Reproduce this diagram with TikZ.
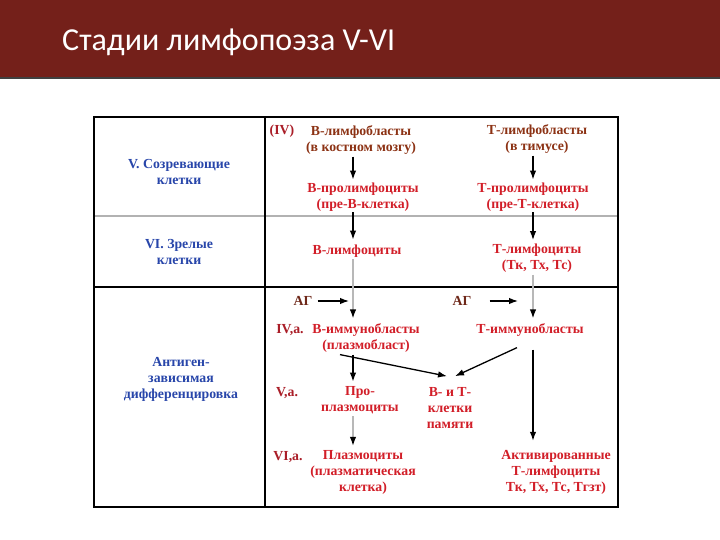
\documentclass[tikz,border=0pt]{standalone}
\usepackage{fontspec}
\setmainfont{Liberation Serif}
\newfontfamily\titlefont{Carlito}
\usetikzlibrary{arrows.meta,calc}
\definecolor{barred}{RGB}{116,32,26}
\definecolor{txtred}{RGB}{210,30,40}
\definecolor{txtbrown}{RGB}{140,50,20}
\definecolor{txtdark}{RGB}{170,30,40}
\definecolor{txtblue}{RGB}{40,70,170}
\definecolor{agcol}{RGB}{110,40,25}
\tikzset{
  lbl/.style={align=center,inner sep=1pt,font=\bfseries\fontsize{13.8}{16}\selectfont},
  red/.style={lbl,text=txtred},
  brown/.style={lbl,text=txtbrown},
  stage/.style={lbl,text=txtdark},
  blue/.style={lbl,text=txtblue},
  ag/.style={lbl,text=agcol},
  arr/.style={line width=1.3pt,-{Latex[length=9pt,width=6.5pt]}},
  garr/.style={line width=1.3pt,draw=black!28,-{Latex[length=9pt,width=6.5pt,color=black]}},
  grid/.style={line width=1.5pt,draw=black},
}
\begin{document}
\begin{tikzpicture}[x=1pt,y=-1pt]
\useasboundingbox (0,0) rectangle (720,540);
\fill[white] (0,0) rectangle (720,540);
% title bar
\fill[barred] (0,0) rectangle (720,77.5);
\draw[black!75,line width=1.2pt] (0,78) -- (720,78);
\node[anchor=west,text=white,inner sep=0,font=\titlefont\fontsize{32}{35}\selectfont] (title) at (62,42) {Стадии лимфопоэза V-VI};
% table
\draw[black!30,line width=1.6pt] (94,216) -- (618,216);
\draw[grid] (94,117) rectangle (618,507);
\draw[grid] (94,287) -- (618,287);
\draw[grid] (265,117) -- (265,507);
% left labels
\node[blue] (L1) at (179,171.5) {V. Созревающие\\клетки};
\node[blue] (L2) at (179,251.5) {VI. Зрелые\\клетки};
\node[blue] (L3) at (181,379) {Антиген-\\зависимая\\дифференцировка};
% content
\coordinate (xB) at (353,0);
\coordinate (xT) at (533,0);
\node[stage] (nIV) at (282,131) {(IV)};
\node[brown] (Blb) at (361,140) {В-лимфобласты\\(в костном мозгу)};
\node[brown] (Tlb) at (537,139) {Т-лимфобласты\\(в тимусе)};
\node[red] (Bpl) at (363,197) {В-пролимфоциты\\(пре-В-клетка)};
\node[red] (Tpl) at (533,197) {Т-пролимфоциты\\(пре-Т-клетка)};
\node[red] (Bl) at (357,251) {В-лимфоциты};
\node[red] (Tl) at (537,258.5) {Т-лимфоциты\\(Тк, Тх, Тс)};
\node[ag] (AG1) at (303,301) {АГ};
\node[ag] (AG2) at (462,301) {АГ};
\coordinate (ag1end) at (349,301);
\coordinate (ag2end) at (518,301);
\node[stage] (IVa) at (290,330) {IV,а.};
\node[red] (Bim) at (366,338) {В-иммунобласты\\(плазмобласт)};
\node[red] (Tim) at (530,330) {Т-иммунобласты};
\node[stage] (Va) at (287,393) {V,а.};
\node[red] (Ppl) at (360,400.5) {Про-\\плазмоциты};
\node[red] (Mem) at (450,408) {В- и Т-\\клетки\\памяти};
\node[stage] (VIa) at (288,457) {VI,а.};
\node[red] (Pl) at (363,472) {Плазмоциты\\(плазматическая\\клетка)};
\node[red] (ATl) at (556,472) {Активированные\\Т-лимфоциты\\Тк, Тх, Тс, Тгзт)};
% arrows
\draw[arr] ($(Blb.south -| xB)+(0,1)$) -- ($(Bpl.north -| xB)+(0,-2)$);
\draw[arr] ($(Tlb.south -| xT)+(0,1)$) -- ($(Tpl.north -| xT)+(0,-2)$);
\draw[arr] ($(Bpl.south -| xB)+(0,0)$) -- ($(Bl.north -| xB)+(0,-4)$);
\draw[arr] ($(Tpl.south -| xT)+(0,0)$) -- ($(Tl.north -| xT)+(0,-3)$);
\draw[garr] ($(Bl.south -| xB)+(0,1)$) -- ($(Bim.north -| xB)+(0,-4)$);
\draw[garr] ($(Tl.south -| xT)+(0,1)$) -- ($(Tim.north -| xT)+(0,-4)$);
\draw[arr] ($(AG1.east)+(4,0)$) -- (ag1end);
\draw[arr] ($(AG2.east)+(17,0)$) -- (ag2end);
\draw[arr] ($(Bim.south -| xB)+(0,1)$) -- ($(Ppl.north -| xB)+(0,-4)$);
\draw[arr] ($(Bim.south)+(-26,1)$) -- ($(Mem.north)+(-3,-10)$);
\draw[arr] ($(Tim.south)+(-13,10)$) -- ($(Mem.north)+(5,-10)$);
\draw[arr] ($(Tim.south -| xT)+(0,12)$) -- ($(ATl.north -| xT)+(0,-8)$);
\draw[garr] ($(Ppl.south -| xB)+(0,1)$) -- ($(Pl.north -| xB)+(0,-3)$);
\end{tikzpicture}
\end{document}
